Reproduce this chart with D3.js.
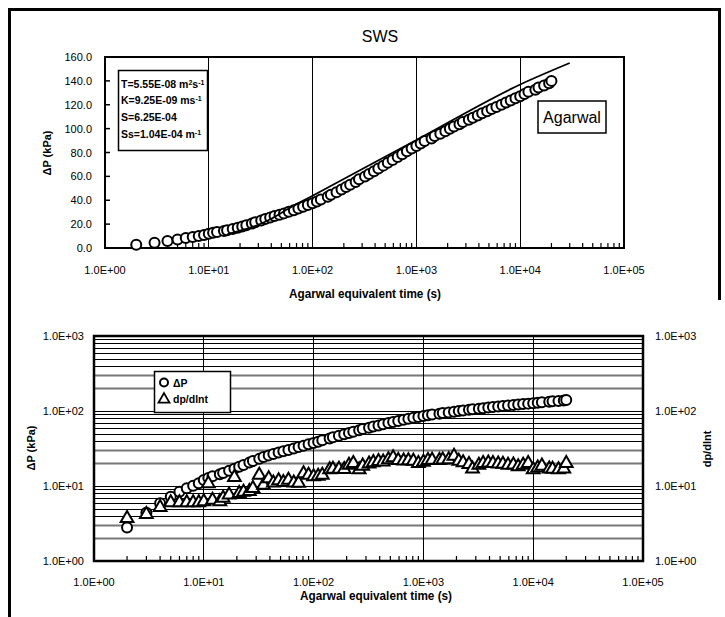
<!DOCTYPE html>
<html>
<head>
<meta charset="utf-8">
<script src="https://cdn.jsdelivr.net/npm/d3@7"></script>
<style>
  body { margin: 0; background: #fff; }
  svg { display: block; }
  text { font-family: "Liberation Sans", Arial, sans-serif; fill: #000; }
</style>
</head>
<body>
<svg id="chart" width="725" height="617"></svg>
<script>
// elapsed (Agarwal equivalent) time, s
const times = [2, 3, 4, 5, 6, 7, 8, 9, 10,
    11, 12, 14, 15, 17, 19, 21, 23, 26, 28, 32, 35, 39, 43, 48, 53, 59, 66, 73, 81, 90,
    100, 110, 120, 140, 150, 170, 190, 210, 230, 260, 280, 320, 350, 390, 430, 480, 530, 590, 660, 730, 810, 900,
    1000, 1100, 1200, 1400, 1500, 1700, 1900, 2100, 2300, 2600, 2800, 3200, 3500, 3900, 4300, 4800, 5300, 5900, 6600, 7300, 8100, 9000,
    10000, 11000, 12000, 14000, 15000, 17000, 19000, 20000];

// pressure change, kPa
const dpValues = [2.8, 4.4, 5.9, 7.2, 8.4, 9.3, 10.1, 10.9, 12.0,
    12.8, 13.5, 14.3, 14.9, 16.0, 17.0, 18.0, 19.0, 20.5, 21.5, 23.0, 24.3, 25.6, 26.8, 27.9, 29.0, 30.3, 31.7, 33.0, 34.5, 36.0,
    37.5, 39.0, 40.6, 43.0, 44.6, 46.8, 49.0, 51.0, 53.0, 55.3, 57.5, 59.8, 62.0, 64.3, 66.6, 69.0, 71.4, 73.8, 76.2, 78.6, 81.0, 83.3,
    85.5, 87.6, 89.7, 91.8, 93.8, 95.8, 97.8, 99.8, 101.7, 103.6, 105.5, 107.4, 109.2, 111.0, 112.8, 114.6, 116.4, 118.2, 120.0, 121.8, 123.6, 125.4,
    127.2, 129.0, 130.8, 132.6, 134.4, 136.2, 138.0, 140.0];

// derivative dp/dlnt
const derivValues = [3.7, 4.2, 5.2, 6.0, 6.0, 6.0, 6.0, 6.0, 6.2,
    10.8, 6.5, 6.2, 6.9, 7.6, 13.0, 8.0, 8.3, 8.5, 9.3, 14.0, 10.3, 12.6, 11.0, 11.8, 11.2, 12.0, 11.0, 10.9, 14.6, 14.0,
    13.4, 13.6, 14.0, 16.5, 16.8, 16.8, 16.7, 19.0, 20.0, 16.5, 18.5, 19.8, 20.6, 21.3, 21.0, 22.5, 24.0, 22.0, 21.6, 21.8, 21.5, 20.0,
    20.8, 22.0, 22.2, 22.0, 22.3, 22.5, 25.0, 21.5, 20.5, 19.5, 17.0, 19.0, 20.0, 20.3, 20.0, 19.8, 19.6, 19.0, 19.2, 18.2, 19.0, 20.0,
    16.5, 17.5, 18.5, 17.0, 16.8, 16.5, 17.0, 20.0];

// Agarwal type curve fit
const modelTimes = [15, 20, 30, 40, 60, 100, 1000, 10000, 30000];
const modelDp = [11.5, 14.5, 19.5, 24.5, 33.5, 43.8, 90.5, 137.0, 155.0];

const linTicks = [0, 20, 40, 60, 80, 100, 120, 140, 160];
const timeDecades = [1, 10, 100, 1000, 10000, 100000];
const logDecades = [1, 10, 100, 1000];
const minorSteps = [2, 3, 4, 5, 6, 7, 8, 9];

const paramLines = [
    [["T=5.55E-08 m"], ["2", true], ["s"], ["-1", true]],
    [["K=9.25E-09 ms"], ["-1", true]],
    [["S=6.25E-04"]],
    [["Ss=1.04E-04 m"], ["-1", true]]
];

const obs = times.map((t, i) => ({ t: t, dp: dpValues[i], der: derivValues[i] }));
const model = modelTimes.map((t, i) => ({ t: t, dp: modelDp[i] }));

const fmtE = v => "1.0E+" + String(Math.round(Math.log10(v))).padStart(2, "0");

const svg = d3.select("#chart");

// page frame
svg.append("path")
    .attr("d", "M9.5,617V9.5H719.5V300")
    .attr("fill", "none")
    .attr("stroke", "#000")
    .attr("stroke-width", 3);

function circleMarks(g, data, x, y, key) {
    g.selectAll(null)
        .data(data)
        .enter().append("circle")
        .attr("cx", d => x(d.t))
        .attr("cy", d => y(d[key]))
        .attr("r", 5)
        .attr("fill", "#fff")
        .attr("stroke", "#000")
        .attr("stroke-width", 2);
}

function minorXTicks(g, x, yBase) {
    timeDecades.slice(0, -1).forEach(d => {
        minorSteps.forEach(k => {
            g.append("line")
                .attr("x1", x(k * d)).attr("x2", x(k * d))
                .attr("y1", yBase).attr("y2", yBase - 5)
                .attr("stroke", "#000").attr("stroke-width", 1.2);
        });
    });
}

function drawTop() {
    const g = svg.append("g");
    const x = d3.scaleLog().domain([1, 1e5]).range([105, 624]);
    const y = d3.scaleLinear().domain([0, 160]).range([248, 57]);

    // decade grid
    timeDecades.slice(1, -1).forEach(d => {
        g.append("line")
            .attr("x1", x(d)).attr("x2", x(d))
            .attr("y1", y(0)).attr("y2", y(160))
            .attr("stroke", "#000").attr("stroke-width", 1)
            .attr("shape-rendering", "crispEdges");
    });
    minorXTicks(g, x, y(0));

    linTicks.forEach(v => {
        g.append("line")
            .attr("x1", x(1)).attr("x2", x(1) + 5)
            .attr("y1", y(v)).attr("y2", y(v))
            .attr("stroke", "#000").attr("stroke-width", 1.5);
        g.append("text")
            .attr("x", x(1) - 13).attr("y", y(v) + 4)
            .attr("text-anchor", "end")
            .attr("font-size", "11px")
            .text(d3.format(".1f")(v));
    });

    timeDecades.forEach(d => {
        g.append("text")
            .attr("x", x(d)).attr("y", 274)
            .attr("text-anchor", "middle")
            .attr("font-size", "11px")
            .text(fmtE(d));
    });

    g.append("rect")
        .attr("x", x(1)).attr("y", y(160))
        .attr("width", x(1e5) - x(1)).attr("height", y(0) - y(160))
        .attr("fill", "none").attr("stroke", "#000").attr("stroke-width", 2);

    circleMarks(g, obs, x, y, "dp");

    g.append("path")
        .datum(model)
        .attr("fill", "none")
        .attr("stroke", "#000")
        .attr("stroke-width", 1.8)
        .attr("d", d3.line().curve(d3.curveMonotoneX).x(d => x(d.t)).y(d => y(d.dp)));

    // titles
    svg.append("text")
        .attr("x", 380).attr("y", 42)
        .attr("text-anchor", "middle")
        .attr("font-size", "16px")
        .text("SWS");

    svg.append("text")
        .attr("x", 365).attr("y", 298)
        .attr("text-anchor", "middle")
        .attr("font-size", "12px")
        .attr("font-weight", "bold")
        .attr("textLength", 152).attr("lengthAdjust", "spacingAndGlyphs")
        .text("Agarwal equivalent time (s)");

    svg.append("text")
        .attr("transform", "translate(51,153) rotate(-90)")
        .attr("text-anchor", "middle")
        .attr("font-size", "11px")
        .attr("font-weight", "bold")
        .text("ΔP (kPa)");

    // parameter box
    svg.append("rect")
        .attr("x", 118.5).attr("y", 70.5)
        .attr("width", 89).attr("height", 80)
        .attr("fill", "#fff").attr("stroke", "#000").attr("stroke-width", 1.5);
    const rows = [88, 104, 121, 138];
    paramLines.forEach((line, i) => {
        const t = svg.append("text")
            .attr("x", 121).attr("y", rows[i])
            .attr("font-size", "10.5px")
            .attr("font-weight", "bold");
        line.forEach(seg => {
            const s = t.append("tspan").text(seg[0]);
            if (seg[1]) s.attr("font-size", "7px").attr("baseline-shift", "super");
        });
    });

    svg.append("rect")
        .attr("x", 538).attr("y", 101)
        .attr("width", 68).attr("height", 32)
        .attr("fill", "#fff").attr("stroke", "#000").attr("stroke-width", 1.5);
    svg.append("text")
        .attr("x", 572).attr("y", 123)
        .attr("text-anchor", "middle")
        .attr("font-size", "16px")
        .text("Agarwal");
}

function drawBottom() {
    const g = svg.append("g");
    const x = d3.scaleLog().domain([1, 1e5]).range([94, 643]);
    const y = d3.scaleLog().domain([1, 1000]).range([561, 336]);

    logDecades.slice(0, -1).forEach(d => {
        [1].concat(minorSteps).forEach(k => {
            const v = k * d;
            if (v <= 1) return;
            const grey = (k === 2 || k === 3);
            g.append("line")
                .attr("x1", x(1)).attr("x2", x(1e5))
                .attr("y1", Math.round(y(v)) + 0.5).attr("y2", Math.round(y(v)) + 0.5)
                .attr("stroke", grey ? "#777" : "#000")
                .attr("stroke-width", grey ? 2 : 1);
        });
    });

    timeDecades.slice(1, -1).forEach(d => {
        g.append("line")
            .attr("x1", x(d)).attr("x2", x(d))
            .attr("y1", y(1)).attr("y2", y(1000))
            .attr("stroke", "#000").attr("stroke-width", 1)
            .attr("shape-rendering", "crispEdges");
    });
    minorXTicks(g, x, y(1));

    g.append("rect")
        .attr("x", x(1)).attr("y", y(1000))
        .attr("width", x(1e5) - x(1)).attr("height", y(1) - y(1000))
        .attr("fill", "none").attr("stroke", "#000").attr("stroke-width", 2.5);

    logDecades.forEach(v => {
        g.append("text")
            .attr("x", 84).attr("y", y(v) + 4)
            .attr("text-anchor", "end")
            .attr("font-size", "11px")
            .text(fmtE(v));
        g.append("text")
            .attr("x", 655).attr("y", y(v) + 4)
            .attr("font-size", "11px")
            .text(fmtE(v));
    });

    timeDecades.forEach(d => {
        g.append("text")
            .attr("x", x(d)).attr("y", 586)
            .attr("text-anchor", "middle")
            .attr("font-size", "11px")
            .text(fmtE(d));
    });

    circleMarks(g, obs, x, y, "dp");

    const tri = d3.symbol().type(d3.symbolTriangle).size(70);
    g.selectAll(null)
        .data(obs)
        .enter().append("path")
        .attr("transform", d => `translate(${x(d.t)},${y(d.der)})`)
        .attr("d", tri)
        .attr("fill", "#fff")
        .attr("stroke", "#000")
        .attr("stroke-width", 2);

    svg.append("text")
        .attr("x", 376).attr("y", 600)
        .attr("text-anchor", "middle")
        .attr("font-size", "12px")
        .attr("font-weight", "bold")
        .attr("textLength", 152).attr("lengthAdjust", "spacingAndGlyphs")
        .text("Agarwal equivalent time (s)");

    svg.append("text")
        .attr("transform", "translate(35,448) rotate(-90)")
        .attr("text-anchor", "middle")
        .attr("font-size", "11px")
        .attr("font-weight", "bold")
        .text("ΔP (kPa)");

    svg.append("text")
        .attr("transform", "translate(711,449) rotate(-90)")
        .attr("text-anchor", "middle")
        .attr("font-size", "11px")
        .attr("font-weight", "bold")
        .text("dp/dlnt");

    // legend
    svg.append("rect")
        .attr("x", 154.5).attr("y", 371.5)
        .attr("width", 76).attr("height", 41)
        .attr("fill", "#fff").attr("stroke", "#000").attr("stroke-width", 1.5);
    svg.append("circle")
        .attr("cx", 164).attr("cy", 382.5).attr("r", 4)
        .attr("fill", "#fff").attr("stroke", "#000").attr("stroke-width", 2);
    svg.append("path")
        .attr("transform", "translate(164,399.5)")
        .attr("d", d3.symbol().type(d3.symbolTriangle).size(52)())
        .attr("fill", "#fff").attr("stroke", "#000").attr("stroke-width", 1.8);
    svg.append("text")
        .attr("x", 173).attr("y", 386.5)
        .attr("font-size", "10.5px").attr("font-weight", "bold")
        .text("ΔP");
    svg.append("text")
        .attr("x", 173).attr("y", 403)
        .attr("font-size", "10.5px").attr("font-weight", "bold")
        .text("dp/dlnt");
}

drawTop();
drawBottom();
</script>
</body>
</html>
